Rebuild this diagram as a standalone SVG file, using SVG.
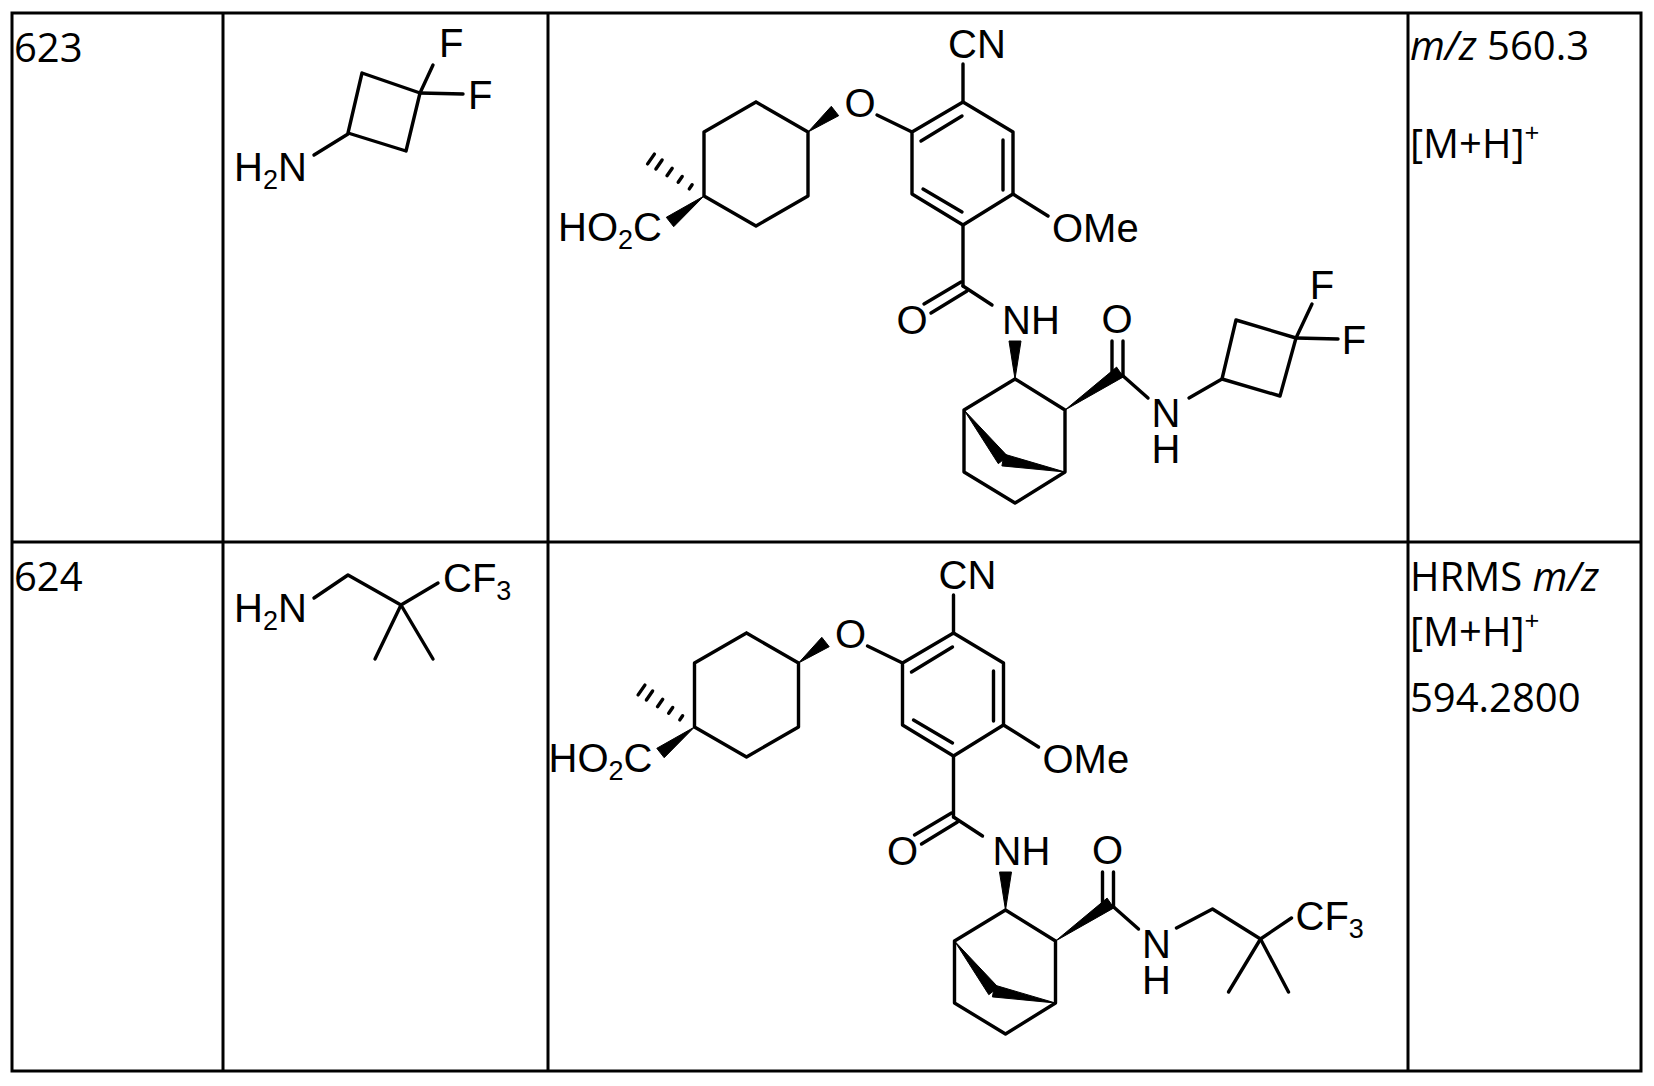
<svg xmlns="http://www.w3.org/2000/svg" width="1654" height="1086" viewBox="0 0 1654 1086">
<style>
.grid{stroke:#000;stroke-width:3;fill:none}
.b{stroke:#000;stroke-width:3.4;fill:none;stroke-linecap:round;stroke-linejoin:round}
.w{fill:#000;stroke:#000;stroke-width:1}
.a{font-family:"Liberation Sans",Arial,sans-serif;font-size:40px;fill:#000}
.t{font-family:"Open Sans","Liberation Sans",sans-serif;font-size:40px;fill:#000}
.s{font-size:27px}
</style>
<defs>
<g id="core">
<polyline class="b" points="756,102 808,132 808,196 756,226 704,196 704,132 756,102"/>
<g class="b"><line x1="689.3" y1="188.9" x2="692.1" y2="184.7"/><line x1="678.2" y1="182.3" x2="682.2" y2="176.5"/><line x1="667" y1="175.7" x2="672.2" y2="168.3"/><line x1="655.9" y1="169" x2="662.1" y2="160"/><line x1="647.6" y1="163.9" x2="654.4" y2="154.1"/></g>
<polygon class="w" points="704,196 673.7,226.7 666.3,217.3"/>
<text class="a" x="558" y="241">HO<tspan class="s" dy="8">2</tspan><tspan dy="-8">C</tspan></text>
<polygon class="w" points="808,132 838.7,115.7 831.3,106.3"/>
<text class="a" x="860" y="117" text-anchor="middle">O</text>
<line class="b" x1="877" y1="115" x2="912" y2="132"/>
<polygon class="b" points="912,132 963,102 1013,132 1013,194 963,225 912,194"/>
<line class="b" x1="921" y1="141" x2="962" y2="116"/>
<line class="b" x1="1003" y1="140" x2="1003" y2="190"/>
<line class="b" x1="923" y1="189" x2="962" y2="212"/>
<line class="b" x1="963" y1="102" x2="963" y2="64"/>
<text class="a" x="977" y="58" text-anchor="middle">CN</text>
<line class="b" x1="1013" y1="194" x2="1048" y2="216"/>
<text class="a" x="1052" y="242">OMe</text>
<line class="b" x1="963" y1="225" x2="963" y2="286"/>
<line class="b" x1="961" y1="282" x2="924" y2="304"/>
<line class="b" x1="967" y1="291" x2="931" y2="313"/>
<text class="a" x="912" y="334" text-anchor="middle">O</text>
<line class="b" x1="963" y1="286" x2="992" y2="305"/>
<text class="a" x="1002" y="334">NH</text>
<polygon class="w" points="1009,341 1021,341 1015,379"/>
<polyline class="b" points="1015,379 1065,410 1065,472 1015,503 964,472 964,410 1015,379"/>
<polygon class="w" points="964,410 1007.7,456.3 998.3,463.7"/>
<polygon class="w" points="1065,472 1004.1,454.1 1001.9,465.9"/>
<polygon class="w" points="1065,410 1123.4,376.9 1116.6,367.1"/>
<line class="b" x1="1112" y1="341" x2="1112" y2="376"/>
<line class="b" x1="1123" y1="341" x2="1123" y2="376"/>
<text class="a" x="1117" y="333" text-anchor="middle">O</text>
<line class="b" x1="1122" y1="375" x2="1148" y2="398"/>
<text class="a" x="1166" y="427" text-anchor="middle">N</text>
<text class="a" x="1166" y="463" text-anchor="middle">H</text>
</g>
</defs>
<g id="table">
<rect class="grid" x="12" y="13" width="1629" height="1058"/>
<line class="grid" x1="12" y1="542" x2="1641" y2="542"/>
<line class="grid" x1="223" y1="13" x2="223" y2="1071"/>
<line class="grid" x1="548" y1="13" x2="548" y2="1071"/>
<line class="grid" x1="1408" y1="13" x2="1408" y2="1071"/>
</g>
<g id="row623">
<text class="t" x="14" y="62">623</text>
<text class="t" x="1410" y="60"><tspan font-style="italic">m/z</tspan> 560.3</text>
<text class="t" x="1410" y="158">[M+H]<tspan font-size="26" dy="-16">+</tspan></text>
</g>
<g id="reagent623">
<polygon class="b" points="362,73 420,93 406,151 348,133"/>
<line class="b" x1="420" y1="93" x2="433" y2="65"/>
<text class="a" x="439" y="57">F</text>
<line class="b" x1="420" y1="93" x2="463" y2="94"/>
<text class="a" x="468" y="109">F</text>
<line class="b" x1="348" y1="134" x2="314" y2="155"/>
<text class="a" x="234" y="181">H<tspan class="s" dy="8">2</tspan><tspan dy="-8">N</tspan></text>
</g>
<g id="product623">
<use href="#core"/>
<line class="b" x1="1189" y1="398" x2="1222" y2="379"/>
<polygon class="b" points="1222,379 1236,320 1296,338 1280,396"/>
<line class="b" x1="1296" y1="338" x2="1312" y2="304"/>
<text class="a" x="1322" y="299" text-anchor="middle">F</text>
<line class="b" x1="1296" y1="338" x2="1338" y2="339"/>
<text class="a" x="1354" y="354" text-anchor="middle">F</text>
</g>
<g id="row624">
<text class="t" x="14" y="591">624</text>
<text class="t" x="1410" y="591">HRMS <tspan font-style="italic">m/z</tspan></text>
<text class="t" x="1410" y="646">[M+H]<tspan font-size="26" dy="-16">+</tspan></text>
<text class="t" x="1410" y="712">594.2800</text>
</g>
<g id="reagent624">
<polyline class="b" points="314,598 348,575 401,605 438,583"/>
<line class="b" x1="401" y1="605" x2="375" y2="659"/>
<line class="b" x1="401" y1="605" x2="433" y2="659"/>
<text class="a" x="234" y="622">H<tspan class="s" dy="8">2</tspan><tspan dy="-8">N</tspan></text>
<text class="a" x="443" y="592">CF<tspan class="s" dy="8">3</tspan></text>
</g>
<g id="product624" transform="translate(-9.5,531)">
<use href="#core"/>
<polyline class="b" points="1186,397 1222,378 1270,408 1301,387"/>
<line class="b" x1="1270" y1="408" x2="1238" y2="461"/>
<line class="b" x1="1270" y1="408" x2="1298" y2="461"/>
<text class="a" x="1305" y="399">CF<tspan class="s" dy="8">3</tspan></text>
</g>
</svg>
